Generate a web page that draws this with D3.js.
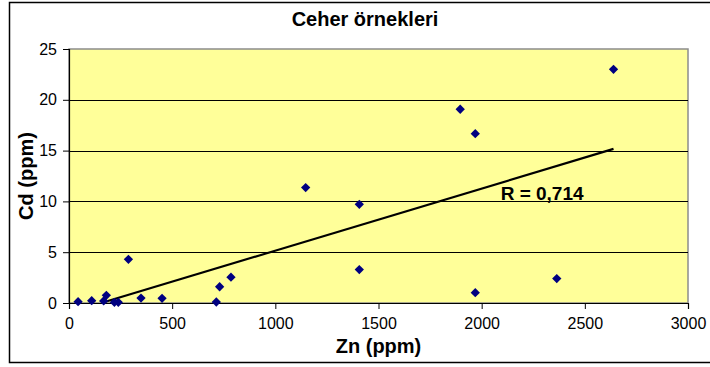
<!DOCTYPE html>
<html>
<head>
<meta charset="utf-8">
<script src="https://cdn.jsdelivr.net/npm/d3@7/dist/d3.min.js"></script>
<style>
  body { margin: 0; background: #fff; }
  svg text { font-family: "Liberation Sans", Arial, sans-serif; }
</style>
</head>
<body>
<div id="chart"></div>
<script>
// Zn / Cd values (ppm)
var zn = [44, 110, 168, 181, 220, 239, 288, 349, 451, 714, 730, 785, 1147, 1407, 1407, 1896, 1969, 1969, 2364, 2639];
var cd = [0.13, 0.23, 0.2, 0.76, 0.07, 0.07, 4.3, 0.49, 0.46, 0.1, 1.6, 2.54, 11.36, 9.71, 3.29, 19.07, 16.67, 1.02, 2.4, 23.0];
var xTicks = [0, 500, 1000, 1500, 2000, 2500, 3000];
var yTicks = [0, 5, 10, 15, 20, 25];
var rLabel = "R = 0,714";

var width = 710, height = 367;
var padding = {left: 69, right: 22, top: 49, bottom: 64};

var svg = d3.select("#chart").append("svg")
    .attr("width", width)
    .attr("height", height);

// outer chart border
svg.append("rect")
    .attr("x", 9.5).attr("y", 2.5)
    .attr("width", 710).attr("height", 360)
    .style("fill", "#fff")
    .style("stroke", "#000")
    .style("stroke-width", 1.5);

var plotW = width - padding.left - padding.right;
var plotH = height - padding.top - padding.bottom;

var x = d3.scaleLinear().domain([0, 3000]).range([0, plotW]);
var y = d3.scaleLinear().domain([0, 25]).range([plotH, 0]);

var g = svg.append("g")
    .attr("transform", "translate(" + padding.left + "," + padding.top + ")");

g.append("rect")
    .attr("width", plotW).attr("height", plotH)
    .style("fill", "#ffff99")
    .style("stroke", "#8c8c8c")
    .style("stroke-width", 1.5);

// gridlines
g.selectAll(".grid")
    .data(yTicks.slice(1, -1))
  .enter().append("line")
    .attr("x1", 0).attr("x2", plotW)
    .attr("y1", function(d){ return Math.round(y(d)) + 0.5; })
    .attr("y2", function(d){ return Math.round(y(d)) + 0.5; })
    .style("stroke", "#000")
    .style("stroke-width", 1);

// axes
var x_axis = d3.axisBottom(x).tickValues(xTicks).tickSize(6).tickPadding(9).tickFormat(d3.format("d"));
var y_axis = d3.axisLeft(y).tickValues(yTicks).tickSize(6).tickPadding(6).tickFormat(d3.format("d"));

var gx = g.append("g").attr("transform", "translate(0," + plotH + ")").call(x_axis);
var gy = g.append("g").call(y_axis);
[gx, gy].forEach(function(a){
    a.select(".domain").style("stroke", "#000").style("stroke-width", 1.2);
    a.selectAll(".tick line").style("stroke", "#000");
    a.selectAll(".tick text").style("font-size", "16px").style("fill", "#000");
});

// linear trendline (least squares), clipped to the plot
var mx = d3.mean(zn), my = d3.mean(cd);
var sxy = d3.sum(zn, function(v, i){ return (v - mx) * (cd[i] - my); });
var sxx = d3.sum(zn, function(v){ return (v - mx) * (v - mx); });
var slope = sxy / sxx, icpt = my - slope * mx;
var x0 = Math.max(d3.min(zn), -icpt / slope), x1 = d3.max(zn);

g.append("line")
    .attr("x1", x(x0)).attr("y1", y(icpt + slope * x0))
    .attr("x2", x(x1)).attr("y2", y(icpt + slope * x1))
    .style("stroke", "#000")
    .style("stroke-width", 2.2);

// points
var diamond = d3.symbol().type(d3.symbolDiamond2).size(55);
g.selectAll(".pt")
    .data(zn)
  .enter().append("path")
    .attr("d", diamond)
    .attr("transform", function(d, i){ return "translate(" + x(d) + "," + y(cd[i]) + ")"; })
    .style("fill", "#000080");

// R label
g.append("text")
    .attr("x", x(2092)).attr("y", y(10.15))
    .style("font-size", "19px").style("font-weight", "bold")
    .text(rLabel);

// titles
svg.append("text")
    .attr("x", 365).attr("y", 26)
    .attr("text-anchor", "middle")
    .style("font-size", "20px").style("font-weight", "bold")
    .text("Ceher örnekleri");

svg.append("text")
    .attr("x", padding.left + x(1500)).attr("y", 353)
    .attr("text-anchor", "middle")
    .style("font-size", "20px").style("font-weight", "bold")
    .text("Zn (ppm)");

svg.append("text")
    .attr("transform", "translate(33," + (padding.top + plotH / 2) + ") rotate(-90)")
    .attr("text-anchor", "middle")
    .style("font-size", "20px").style("font-weight", "bold")
    .text("Cd (ppm)");
</script>
</body>
</html>
